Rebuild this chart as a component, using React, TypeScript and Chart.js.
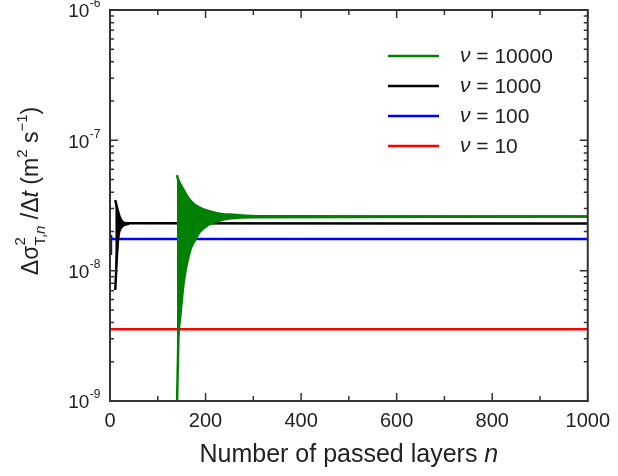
import React, { useEffect, useRef } from 'react';
import { Chart, registerables } from 'chart.js';

Chart.register(...registerables);

// ---- data ----
const greenUpperN = [140, 143, 148, 154, 164, 178, 199, 226, 260, 315, 1000];
const greenUpperV = [5.4e-8, 4.97e-8, 4.55e-8, 4.16e-8, 3.61e-8, 3.19e-8, 2.92e-8, 2.75e-8, 2.68e-8, 2.61e-8, 2.6e-8];
const greenLowerN = [140, 143, 147, 154, 168, 178, 188, 205, 226, 253, 302, 1000];
const greenLowerV = [8e-10, 2.9e-9, 4.4e-9, 8.0e-9, 1.44e-8, 1.72e-8, 1.99e-8, 2.24e-8, 2.4e-8, 2.52e-8, 2.57e-8, 2.6e-8];

const blackUpperN = [11, 16, 20, 26, 35, 1000];
const blackUpperV = [3.48e-8, 2.92e-8, 2.6e-8, 2.38e-8, 2.31e-8, 2.3e-8];
const blackLowerN = [11, 14, 17.5, 23, 30, 40];
const blackLowerV = [7.1e-9, 1.21e-8, 1.82e-8, 2.13e-8, 2.24e-8, 2.3e-8];

const blueN = [2, 2, 3, 1000];
const blueV = [1.32e-8, 1.88e-8, 1.75e-8, 1.75e-8];

const redN = [0, 1000];
const redV = [3.55e-9, 3.55e-9];

const legendLabels = ['10000', '1000', '100', '10'];
const seriesColors = ['#008000', '#000000', '#0000ff', '#ff0000'];

const xMin = 0;
const xMax = 1000;
const xStep = 200;
const yExponents = [-9, -8, -7, -6];
const yMantissas = [1, 2, 3, 4, 5, 6, 7, 8, 9];

const FONT = '"Liberation Sans", Arial, Helvetica, sans-serif';

function pts(n: number[], v: number[]) {
  return n.map((x, i) => ({ x, y: v[i] }));
}

const decorPlugin = {
  id: 'decor',
  afterDraw(chart: any) {
    const { ctx, chartArea } = chart;
    const { left, right, top, bottom } = chartArea;
    const xs = chart.scales.x;
    const ys = chart.scales.y;
    ctx.save();

    // inward ticks
    ctx.strokeStyle = '#333';
    ctx.lineWidth = 1.5;
    ctx.beginPath();
    for (let v = xMin; v <= xMax; v += xStep / 2) {
      const px = xs.getPixelForValue(v);
      const len = v % xStep === 0 ? 8 : 5;
      ctx.moveTo(px, bottom);
      ctx.lineTo(px, bottom - len);
      ctx.moveTo(px, top);
      ctx.lineTo(px, top + len);
    }
    for (let i = 0; i < yExponents.length; i++) {
      const e = yExponents[i];
      const ms = i === yExponents.length - 1 ? [1] : yMantissas;
      for (const m of ms) {
        const py = ys.getPixelForValue(m * Math.pow(10, e));
        const len = m === 1 ? 8 : 4;
        ctx.moveTo(left, py);
        ctx.lineTo(left + len, py);
        ctx.moveTo(right, py);
        ctx.lineTo(right - len, py);
      }
    }
    ctx.stroke();

    // frame
    ctx.lineWidth = 2;
    ctx.strokeStyle = '#333';
    ctx.strokeRect(left, top, right - left, bottom - top);

    // y tick labels 10^e
    ctx.fillStyle = '#222';
    for (const e of yExponents) {
      const py = ys.getPixelForValue(Math.pow(10, e));
      const expText = String(e);
      ctx.font = `12px ${FONT}`;
      const ew = ctx.measureText(expText).width;
      const baseX = left - 10 - ew;
      ctx.textBaseline = 'middle';
      ctx.textAlign = 'left';
      ctx.fillText(expText, baseX + 0.5, py - 6);
      ctx.font = `19px ${FONT}`;
      ctx.textAlign = 'right';
      ctx.fillText('10', baseX, py + 2);
    }

    // x axis title
    ctx.textAlign = 'left';
    ctx.textBaseline = 'alphabetic';
    ctx.font = `25px ${FONT}`;
    const t1 = 'Number of passed layers ';
    const w1 = ctx.measureText(t1).width;
    ctx.font = `italic 25px ${FONT}`;
    const w2 = ctx.measureText('n').width;
    const cx = (left + right) / 2;
    const sx = cx - (w1 + w2) / 2;
    ctx.font = `25px ${FONT}`;
    ctx.fillText(t1, sx, 462);
    ctx.font = `italic 25px ${FONT}`;
    ctx.fillText('n', sx + w1, 462);

    // y axis title (rotated)
    const main = 23;
    const small = 15;
    type Piece = { t: string; size: number; italic?: boolean; dy: number; advance?: boolean };
    const pieces: Piece[] = [
      { t: 'Δσ', size: main, dy: 0 },
      { t: '2', size: small, dy: -13, advance: false },
      { t: 'T,', size: small, dy: 7 },
      { t: 'n', size: small, italic: true, dy: 7 },
      { t: ' /Δ', size: main, dy: 0 },
      { t: 't', size: main, italic: true, dy: 0 },
      { t: ' (m', size: main, dy: 0 },
      { t: '2', size: small, dy: -11 },
      { t: ' s', size: main, dy: 0 },
      { t: '−1', size: small, dy: -11 },
      { t: ')', size: main, dy: 0 },
    ];
    const widths = pieces.map((p) => {
      ctx.font = `${p.italic ? 'italic ' : ''}${p.size}px ${FONT}`;
      return ctx.measureText(p.t).width;
    });
    let total = 0;
    pieces.forEach((p, i) => {
      if (p.advance !== false) total += widths[i];
    });
    ctx.translate(38, 191);
    ctx.rotate(-Math.PI / 2);
    let pos = -total / 2;
    pieces.forEach((p, i) => {
      ctx.font = `${p.italic ? 'italic ' : ''}${p.size}px ${FONT}`;
      ctx.fillText(p.t, pos, p.dy);
      if (p.advance !== false) pos += widths[i];
    });
    ctx.setTransform(1, 0, 0, 1, 0, 0);

    // legend
    const rowY = [56, 86, 116, 146];
    for (let i = 0; i < legendLabels.length; i++) {
      const y = rowY[i];
      ctx.strokeStyle = seriesColors[i];
      ctx.lineWidth = 2.5;
      ctx.beginPath();
      ctx.moveTo(388, y);
      ctx.lineTo(439, y);
      ctx.stroke();
      ctx.fillStyle = '#222';
      ctx.textBaseline = 'middle';
      ctx.textAlign = 'left';
      ctx.font = `italic 21px ${FONT}`;
      ctx.fillText('ν', 460, y);
      const nw = ctx.measureText('ν').width;
      ctx.font = `21px ${FONT}`;
      ctx.fillText(' = ' + legendLabels[i], 460 + nw, y + 1);
    }
    ctx.restore();
  },
};

export default function App() {
  const ref = useRef<HTMLCanvasElement | null>(null);
  useEffect(() => {
    if (!ref.current) return;
    const lw = 2.5;
    const chart = new Chart(ref.current, {
      type: 'line',
      data: {
        datasets: [
          {
            label: 'green upper',
            data: pts(greenUpperN, greenUpperV),
            borderColor: seriesColors[0],
            backgroundColor: seriesColors[0],
            borderWidth: lw,
            pointRadius: 0,
            fill: '+1',
            cubicInterpolationMode: 'monotone',
          },
          {
            label: 'green lower',
            data: pts(greenLowerN, greenLowerV),
            borderColor: seriesColors[0],
            borderWidth: lw,
            pointRadius: 0,
            fill: false,
            cubicInterpolationMode: 'monotone',
          },
          {
            label: 'black upper',
            data: pts(blackUpperN, blackUpperV),
            borderColor: seriesColors[1],
            backgroundColor: seriesColors[1],
            borderWidth: lw,
            pointRadius: 0,
            fill: '+1',
            cubicInterpolationMode: 'monotone',
          },
          {
            label: 'black lower',
            data: pts(blackLowerN, blackLowerV),
            borderColor: seriesColors[1],
            borderWidth: lw,
            pointRadius: 0,
            fill: false,
            cubicInterpolationMode: 'monotone',
          },
          {
            label: 'blue',
            data: pts(blueN, blueV),
            borderColor: seriesColors[2],
            borderWidth: lw,
            pointRadius: 0,
            fill: false,
          },
          {
            label: 'red',
            data: pts(redN, redV),
            borderColor: seriesColors[3],
            borderWidth: lw,
            pointRadius: 0,
            fill: false,
          },
        ],
      },
      options: {
        animation: false,
        responsive: false,
        layout: { padding: { top: 10, right: 23, left: 0, bottom: 0 } },
        plugins: { legend: { display: false }, tooltip: { enabled: false } },
        scales: {
          x: {
            type: 'linear',
            min: xMin,
            max: xMax,
            grid: { display: false, drawTicks: false },
            border: { display: false },
            ticks: {
              stepSize: xStep,
              autoSkip: false,
              maxRotation: 0,
              padding: 8,
              color: '#222',
              font: { family: FONT, size: 20 },
              callback: (v: any) => String(v),
            },
            afterFit: (s: any) => {
              s.height = 75;
            },
          },
          y: {
            type: 'logarithmic',
            min: 1e-9,
            max: 1e-6,
            grid: { display: false, drawTicks: false },
            border: { display: false },
            ticks: { display: false },
            afterFit: (s: any) => {
              s.width = 110;
            },
          },
        },
      },
      plugins: [decorPlugin],
    } as any);
    return () => chart.destroy();
  }, []);
  return (
    <div style={{ position: 'fixed', left: 0, top: 0, width: 618, height: 476, background: '#fff' }}>
      <canvas ref={ref} width={618} height={476} style={{ width: 618, height: 476, display: 'block' }} />
    </div>
  );
}
